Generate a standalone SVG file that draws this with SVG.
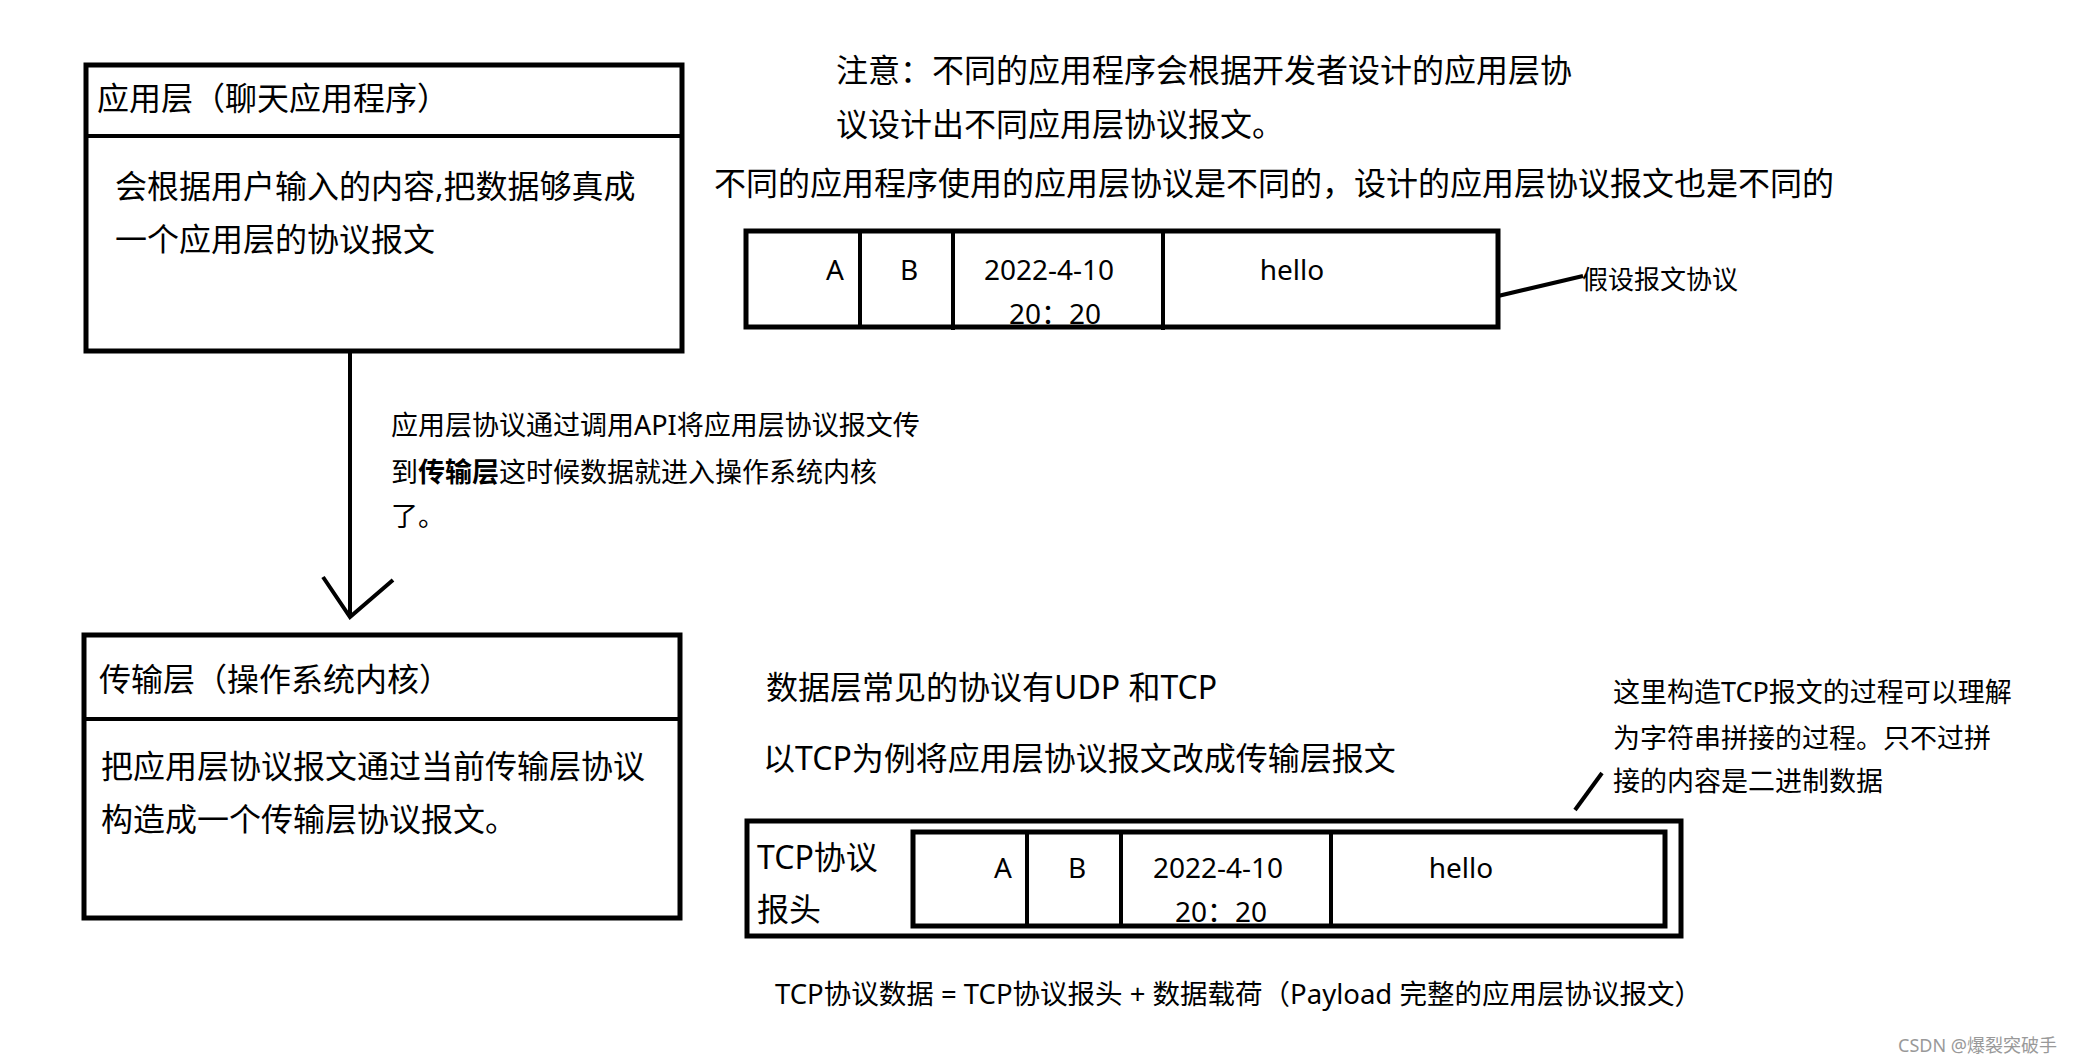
<svg xmlns="http://www.w3.org/2000/svg" width="2084" height="1064" viewBox="0 0 2084 1064">
<style>
text{font-family:"Noto Sans","Noto Sans CJK SC",sans-serif;fill:#000}
.box{fill:#fff;stroke:#000;stroke-width:5}
.ln{stroke:#000;stroke-width:4;fill:none}
.h{font-size:32px}
.b{font-size:32px}
.s{font-size:26px}
.m{font-size:27px}
.c{font-size:28px;text-anchor:middle}
</style>
<rect width="2084" height="1064" fill="#fff"/>
<g id="app-layer">
<rect class="box" x="86" y="65" width="596" height="286"/>
<line class="ln" x1="86" y1="136" x2="682" y2="136" stroke-width="5"/>
<text class="h" x="97" y="110">应用层（聊天应用程序）</text>
<text class="b" x="115" y="198">会根据用户输入的内容,把数据够真成</text>
<text class="b" x="115" y="251">一个应用层的协议报文</text>
</g>
<g id="transport-layer">
<rect class="box" x="84" y="635" width="596" height="283"/>
<line class="ln" x1="84" y1="719" x2="682" y2="719" stroke-width="5"/>
<text class="h" x="99" y="691">传输层（操作系统内核）</text>
<text class="b" x="101" y="778">把应用层协议报文通过当前传输层协议</text>
<text class="b" x="101" y="831">构造成一个传输层协议报文。</text>
</g>
<g id="notes">
<text class="b" x="836" y="82">注意：不同的应用程序会根据开发者设计的应用层协</text>
<text class="b" x="836" y="136">议设计出不同应用层协议报文。</text>
<text class="b" x="714" y="195">不同的应用程序使用的应用层协议是不同的，设计的应用层协议报文也是不同的</text>
<text class="m" x="391" y="435">应用层协议通过调用API将应用层协议报文传</text>
<text class="m" x="391" y="482">到<tspan font-weight="bold">传输层</tspan>这时候数据就进入操作系统内核</text>
<text class="m" x="391" y="526">了。</text>
<text class="b" x="766" y="699">数据层常见的协议有UDP 和TCP</text>
<text class="b" x="763" y="770">以TCP为例将应用层协议报文改成传输层报文</text>
<text class="m" x="1613" y="702">这里构造TCP报文的过程可以理解</text>
<text class="m" x="1613" y="748">为字符串拼接的过程。只不过拼</text>
<text class="m" x="1613" y="791">接的内容是二进制数据</text>
<text x="775" y="1004" font-size="27.5" xml:space="preserve">TCP协议数据 = TCP协议报头 + 数据载荷（Payload 完整的应用层协议报文）</text>
<text x="1898" y="1052" font-size="18" style="fill:#999">CSDN @爆裂突破手</text>
</g>
<g id="packet-app">
<rect class="box" x="746" y="231" width="752" height="96"/>
<line class="ln" x1="860" y1="231" x2="860" y2="327"/>
<line class="ln" x1="953" y1="231" x2="953" y2="330"/>
<line class="ln" x1="1163" y1="231" x2="1163" y2="330"/>
<text class="c" x="835" y="280">A</text>
<text class="c" x="909" y="280">B</text>
<text class="c" x="1049" y="280">2022-4-10</text>
<text class="c" x="1055" y="324">20：20</text>
<text class="c" x="1292" y="280">hello</text>
<text class="s" x="1582" y="289">假设报文协议</text>
</g>
<g id="packet-tcp">
<rect class="box" x="747" y="821" width="934" height="115"/>
<rect class="box" x="913" y="832" width="752" height="94"/>
<line class="ln" x1="1027" y1="832" x2="1027" y2="926"/>
<line class="ln" x1="1121" y1="832" x2="1121" y2="928"/>
<line class="ln" x1="1331" y1="832" x2="1331" y2="928"/>
<text class="b" x="757" y="869">TCP协议</text>
<text class="b" x="757" y="921">报头</text>
<text class="c" x="1003" y="878">A</text>
<text class="c" x="1077" y="878">B</text>
<text class="c" x="1218" y="878">2022-4-10</text>
<text class="c" x="1221" y="922">20：20</text>
<text class="c" x="1461" y="878">hello</text>
</g>
<g id="connectors">
<line class="ln" x1="350" y1="351" x2="350" y2="615"/>
<polyline class="ln" points="323,577 350,617 393,580"/>
<line class="ln" x1="1498" y1="296" x2="1583" y2="276" stroke-width="5"/>
<line class="ln" x1="1575" y1="810" x2="1602" y2="773"/>
</g>
</svg>
